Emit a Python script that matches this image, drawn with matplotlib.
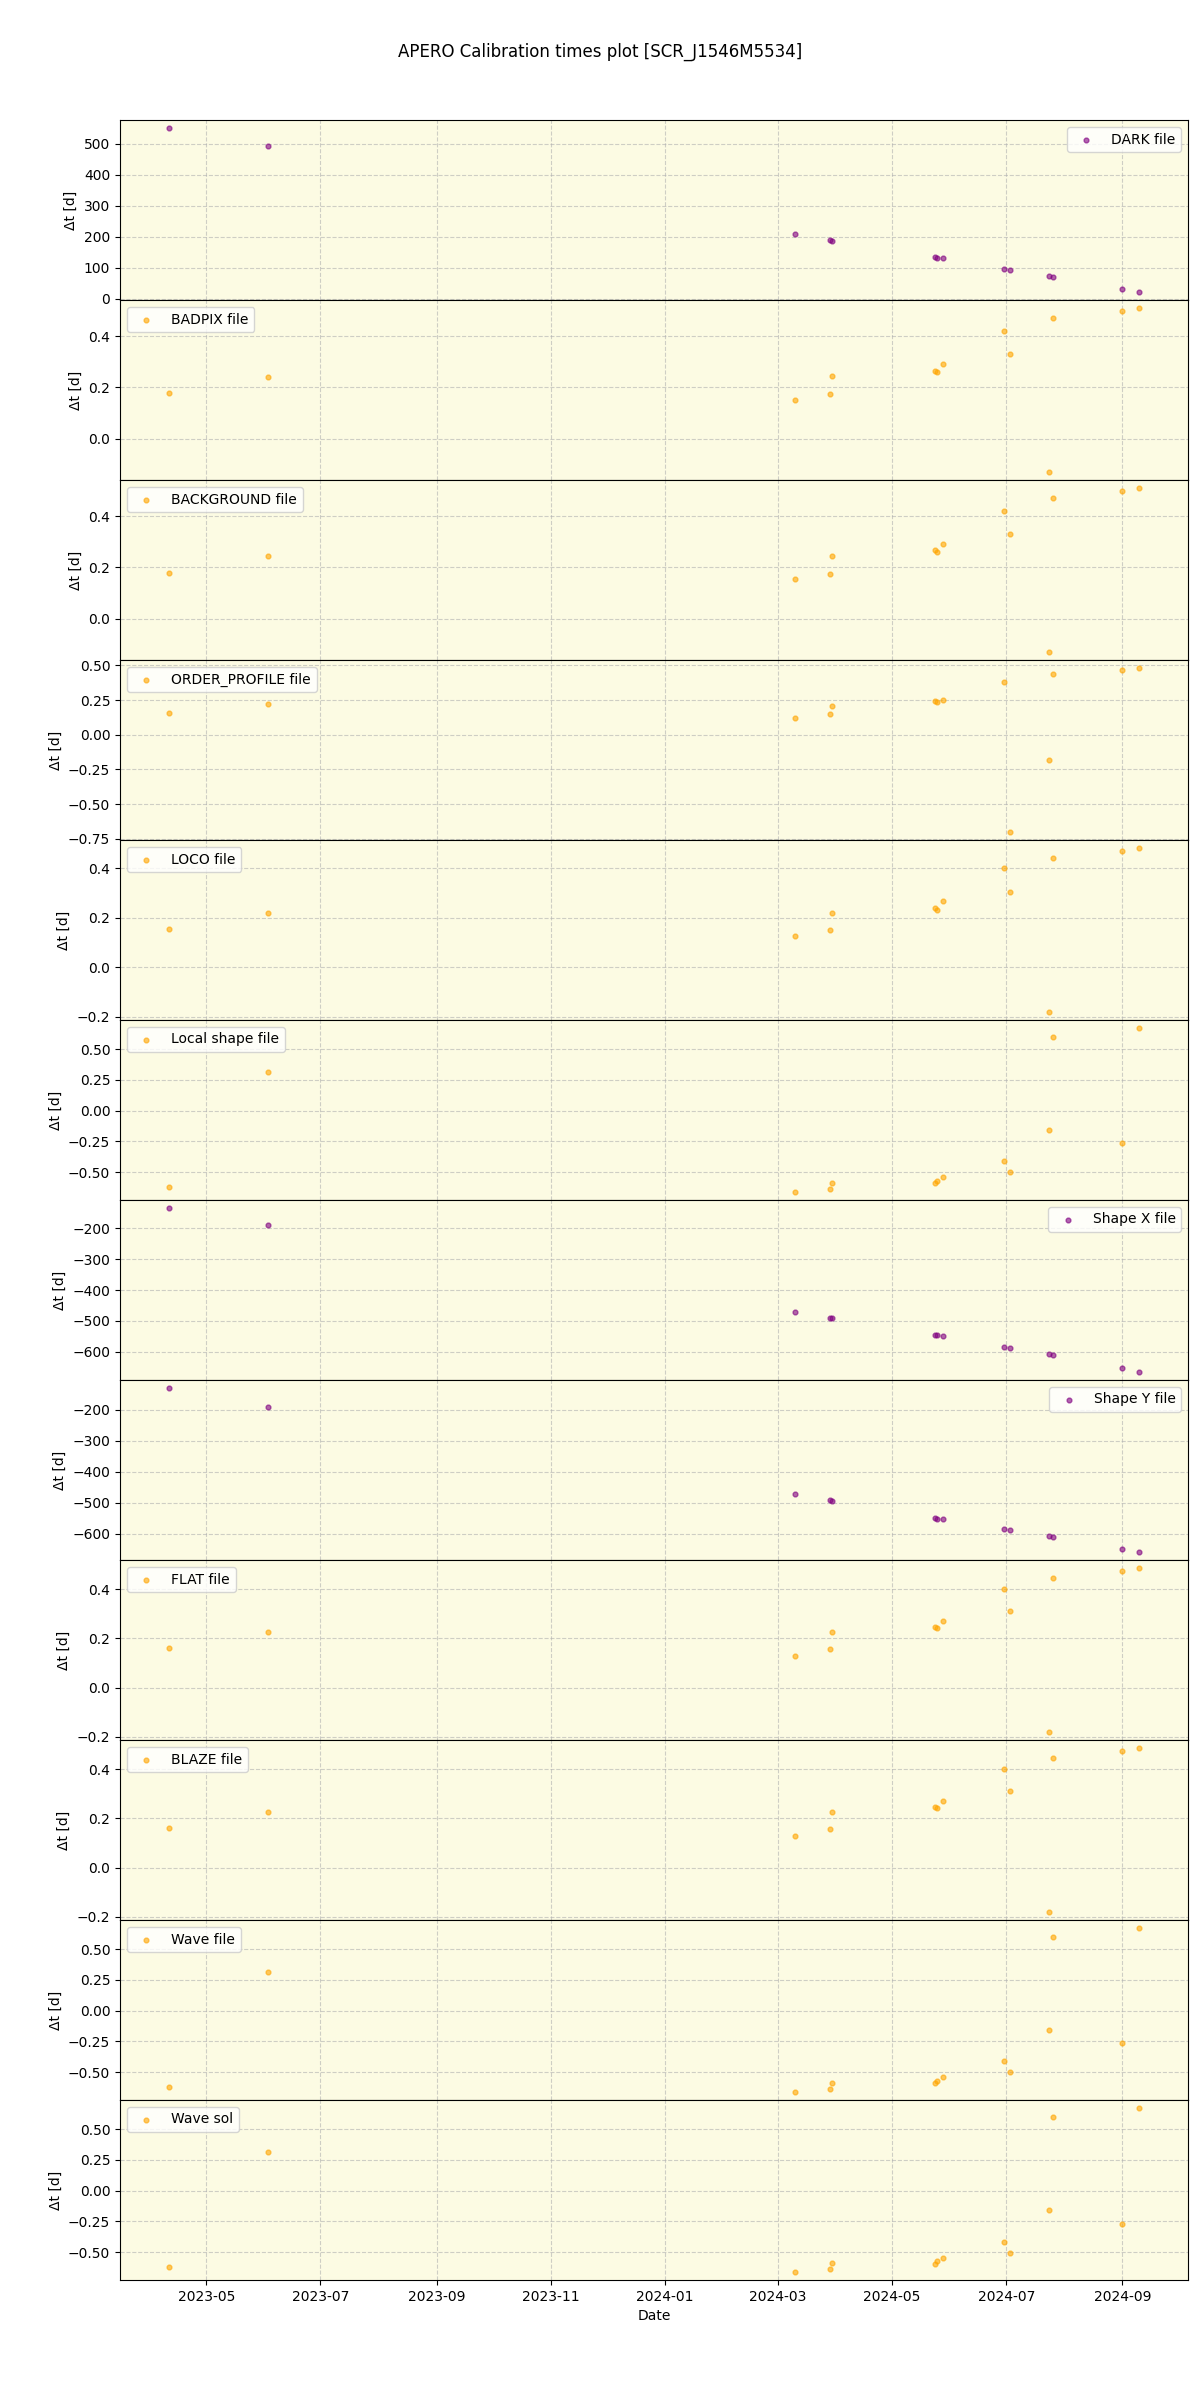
import matplotlib
matplotlib.use("Agg")
import matplotlib.pyplot as plt
import matplotlib.dates as mdates
import numpy as np

dates = np.array(["2023-04-11", "2023-06-03", "2024-03-10", "2024-03-29", "2024-03-30",
                  "2024-05-24", "2024-05-25", "2024-05-28", "2024-06-30", "2024-07-03",
                  "2024-07-24", "2024-07-26", "2024-09-01", "2024-09-10"], dtype="datetime64[D]")

dark = [550, 493, 210, 190, 187, 133, 131, 130, 97, 93, 73, 70, 30, 22]
badpix = [0.18, 0.24, 0.15, 0.175, 0.245, 0.265, 0.26, 0.29, 0.42, 0.33, -0.13, 0.47, 0.5, 0.51]
background = [0.18, 0.245, 0.155, 0.175, 0.245, 0.27, 0.26, 0.29, 0.42, 0.33, -0.13, 0.47, 0.5, 0.51]
order_profile = [0.16, 0.22, 0.12, 0.15, 0.21, 0.24, 0.235, 0.25, 0.38, -0.7, -0.18, 0.44, 0.47, 0.48]
loco = [0.155, 0.22, 0.125, 0.15, 0.22, 0.24, 0.23, 0.265, 0.4, 0.305, -0.18, 0.44, 0.47, 0.48]
local_shape = [-0.62, 0.31, -0.66, -0.64, -0.59, -0.59, -0.57, -0.54, -0.41, -0.5, -0.16, 0.6, -0.26, 0.67]
shape_x = [-135, -190, -470, -490, -492, -545, -546, -548, -585, -588, -608, -612, -653, -665]
shape_y = [-130, -190, -470, -490, -493, -550, -552, -553, -585, -588, -608, -610, -650, -658]
flat = [0.16, 0.225, 0.13, 0.155, 0.225, 0.245, 0.24, 0.27, 0.4, 0.31, -0.18, 0.445, 0.475, 0.485]
blaze = [0.16, 0.225, 0.13, 0.155, 0.225, 0.245, 0.24, 0.27, 0.4, 0.31, -0.18, 0.445, 0.475, 0.485]
wave_file = [-0.62, 0.31, -0.66, -0.64, -0.59, -0.59, -0.57, -0.54, -0.41, -0.5, -0.16, 0.6, -0.26, 0.67]
wave_sol = [-0.62, 0.31, -0.66, -0.64, -0.59, -0.6, -0.57, -0.55, -0.42, -0.51, -0.16, 0.6, -0.27, 0.67]

panels = [
    ("DARK file", dark, "purple", "upper right"),
    ("BADPIX file", badpix, "orange", "upper left"),
    ("BACKGROUND file", background, "orange", "upper left"),
    ("ORDER_PROFILE file", order_profile, "orange", "upper left"),
    ("LOCO file", loco, "orange", "upper left"),
    ("Local shape file", local_shape, "orange", "upper left"),
    ("Shape X file", shape_x, "purple", "upper right"),
    ("Shape Y file", shape_y, "purple", "upper right"),
    ("FLAT file", flat, "orange", "upper left"),
    ("BLAZE file", blaze, "orange", "upper left"),
    ("Wave file", wave_file, "orange", "upper left"),
    ("Wave sol", wave_sol, "orange", "upper left"),
]

fig, axes = plt.subplots(len(panels), 1, figsize=(12, 24), sharex=True)
fig.subplots_adjust(hspace=0, left=0.1, right=0.99, top=0.95, bottom=0.05)
fig.suptitle("APERO Calibration times plot [SCR_J1546M5534]", y=0.982)

for ax, (label, vals, col, loc) in zip(axes, panels):
    ax.set_facecolor("#fcfbe3")
    ax.scatter(dates, vals, s=12, color=col, alpha=0.6, label=label, zorder=3)
    ax.grid(True, linestyle="--", alpha=0.6)
    ax.set_ylabel("Δt [d]")
    ax.legend(loc=loc)

axes[-1].set_xlim(np.datetime64("2023-03-16"), np.datetime64("2024-10-06"))
axes[-1].xaxis.set_major_locator(mdates.MonthLocator(bymonth=[1, 3, 5, 7, 9, 11]))
axes[-1].xaxis.set_major_formatter(mdates.DateFormatter("%Y-%m"))
axes[-1].set_xlabel("Date")

fig.savefig("out.png", dpi=100)
